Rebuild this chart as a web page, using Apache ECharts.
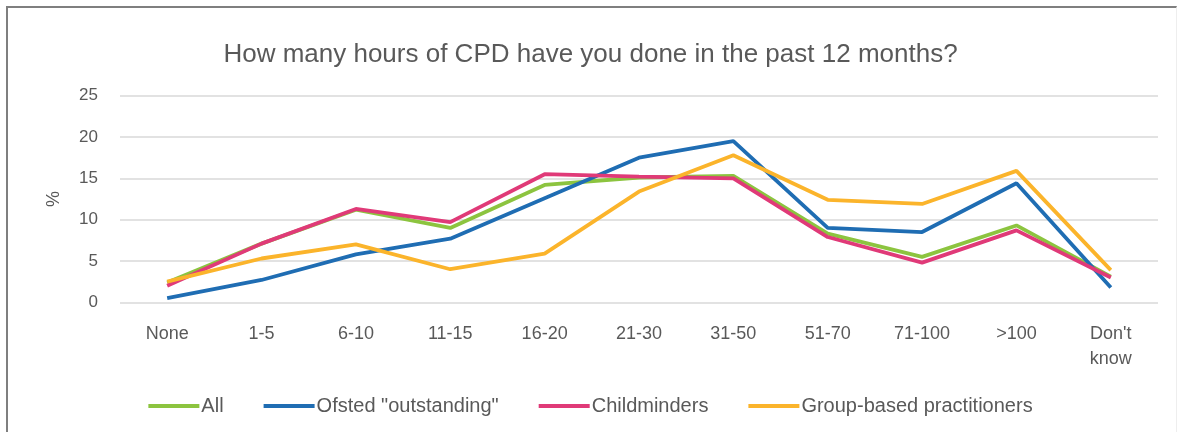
<!DOCTYPE html>
<html>
<head>
<meta charset="utf-8">
<script src="https://cdn.jsdelivr.net/npm/echarts@6/dist/echarts.min.js"></script>
<style>
  html, body { margin: 0; padding: 0; background: #fff; }
  #frame { position: absolute; left: 6px; top: 6px; width: 1168px; height: 440px;
           border-top: 2px solid #7f7f7f; border-left: 2px solid #7f7f7f; border-right: 1px solid #eeeeee; }
  #chart { position: absolute; left: 0; top: 0; width: 1181px; height: 432px; }
</style>
</head>
<body>
<div id="frame"></div>
<div id="chart"></div>
<script>
var categories = ['None', '1-5', '6-10', '11-15', '16-20', '21-30', '31-50', '51-70', '71-100', '>100', "Don't\nknow"];
var allValues = [2.4, 7.1, 11.2, 9.0, 14.2, 15.1, 15.3, 8.3, 5.5, 9.3, 3.1];
var ofstedValues = [0.5, 2.7, 5.8, 7.7, 12.6, 17.5, 19.5, 9.0, 8.5, 14.4, 1.8];
var childminderValues = [2.0, 7.1, 11.3, 9.7, 15.5, 15.2, 15.0, 7.9, 4.8, 8.7, 3.0];
var groupValues = [2.5, 5.3, 7.0, 4.0, 5.9, 13.4, 17.8, 12.4, 11.9, 15.9, 3.9];
var seriesNames = ['All', 'Ofsted "outstanding"', 'Childminders', 'Group-based practitioners'];
var seriesColors = ['#8cc43f', '#1f6db3', '#e03a78', '#fbb42b'];

var FONT = '"Liberation Sans", Arial, sans-serif';
var chart = echarts.init(document.getElementById('chart'), null, { renderer: 'canvas' });

function line(name, data, color) {
  return {
    name: name,
    type: 'line',
    data: data,
    symbol: 'none',
    smooth: false,
    lineStyle: { width: 3.8, color: color },
    itemStyle: { color: color },
    z: 2
  };
}

var option = {
  backgroundColor: 'transparent',
  animation: false,
  title: {
    text: 'How many hours of CPD have you done in the past 12 months?',
    left: 'center',
    top: 37,
    textStyle: { fontFamily: FONT, fontSize: 26, fontWeight: 'normal', color: '#595959' }
  },
  legend: {
    data: seriesNames,
    bottom: 11,
    left: 'center',
    itemWidth: 51,
    itemHeight: 4,
    itemGap: 40,
    icon: 'rect',
    textStyle: { fontFamily: FONT, fontSize: 20, color: '#595959', padding: [0, 0, 0, -3] }
  },
  grid: { left: 120, right: 23, top: 95.7, bottom: 129.7, containLabel: false },
  xAxis: {
    type: 'category',
    data: categories,
    boundaryGap: true,
    axisLine: { show: false },
    axisTick: { show: false },
    axisLabel: { fontFamily: FONT, fontSize: 18, color: '#595959', margin: 19, lineHeight: 25, interval: 0,
      verticalAlign: 'top' }
  },
  yAxis: {
    type: 'value',
    min: 0,
    max: 25,
    interval: 5,
    name: '%',
    nameLocation: 'middle',
    nameGap: 57,
    nameRotate: 90,
    nameTextStyle: { fontFamily: FONT, fontSize: 18, color: '#595959' },
    axisLine: { show: false },
    axisTick: { show: false },
    axisLabel: { fontFamily: FONT, fontSize: 17, color: '#595959', margin: 22 },
    splitLine: { lineStyle: { color: '#d9d9d9', width: 1.5 } }
  },
  series: [
    line(seriesNames[0], allValues, seriesColors[0]),
    line(seriesNames[1], ofstedValues, seriesColors[1]),
    line(seriesNames[2], childminderValues, seriesColors[2]),
    line(seriesNames[3], groupValues, seriesColors[3])
  ]
};

chart.setOption(option);
</script>
</body>
</html>
